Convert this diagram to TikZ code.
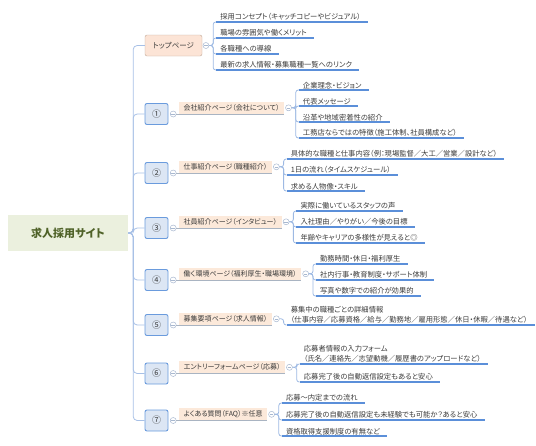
\documentclass[tikz,border=0pt]{standalone}
\usepackage{fontspec}
\setmainfont[RawFeature=+palt]{Noto Sans CJK JP}
\usetikzlibrary{positioning}
\definecolor{rootfill}{HTML}{EBF0DE}
\definecolor{roottext}{HTML}{4F6228}
\definecolor{tpfill}{HTML}{FCE4D6}
\definecolor{tpline}{HTML}{BFA898}
\definecolor{boxfill}{HTML}{DCE6F4}
\definecolor{boxline}{HTML}{6A9BDD}
\definecolor{labfill}{HTML}{FCE9DA}
\definecolor{labtext}{HTML}{3A3A3A}
\definecolor{trunkc}{HTML}{A7C0E6}
\definecolor{bracec}{HTML}{9DB9E3}
\definecolor{ulinec}{HTML}{5B8FD9}
\definecolor{lablinec}{HTML}{A9B4C2}
\definecolor{foldline}{HTML}{A8B8D0}

\begin{document}
\begin{tikzpicture}[x=1pt,y=-1pt,
	rootnode/.style={fill=rootfill, text=roottext, minimum width=120pt, minimum height=36pt, font=\bfseries\fontsize{11}{13}\selectfont},
	topbox/.style={draw=tpline, fill=tpfill, rounded corners=2pt, minimum width=57pt, minimum height=21pt, text=labtext, font=\fontsize{7.5}{9}\selectfont},
	numbox/.style={draw=boxline, fill=boxfill, line width=0.9pt, rounded corners=2pt, minimum width=23pt, minimum height=21pt, text=labtext, font=\fontsize{9}{10}\selectfont},
	lab/.style={anchor=south west, fill=labfill, text=labtext, inner xsep=4.5pt, inner ysep=1.5pt, minimum height=12pt, font=\fontsize{7}{8}\selectfont},
	leaf/.style={anchor=south west, align=left, inner xsep=4pt, inner ysep=1.2pt, text=labtext, font=\fontsize{7.3}{10}\selectfont},
	fold/.style={circle, draw=foldline, fill=white, line width=0.5pt, minimum size=6pt, inner sep=0pt,
		path picture={\draw[foldline, line width=0.5pt] ([xshift=-1.8pt]path picture bounding box.center) -- ([xshift=1.8pt]path picture bounding box.center);}},
	trunk/.style={draw=trunkc, line width=0.8pt, rounded corners=4pt},
	brace/.style={draw=bracec, line width=0.8pt, rounded corners=2.5pt},
	uline/.style={draw=ulinec, line width=1.1pt},
	labline/.style={draw=lablinec, line width=0.7pt}]
		\useasboundingbox (0,0) rectangle (536,445);
		\node[rootnode] (root) at (68,233) {求人採用サイト};
		%
		\node[topbox] (tp) at (173.5,45.5) {トップページ};
		\node[fold, right=0.5pt of tp] (tpf) {};
		\coordinate (x0) at ([xshift=7pt]tpf.east);
		\draw[trunk] (root.east) -- ++(5,0) |- (tp.west);
		\foreach \y/\txt [count=\i] in {22/採用コンセプト（キャッチコピーやビジュアル）, 38/職場の雰囲気や働くメリット, 54/各職種への導線, 70/最新の求人情報・募集職種一覧へのリンク}{
			\node[leaf] (c0\i) at (x0 |- 0,\y) {\txt};
			\draw[brace] (tpf.east) -| ([xshift=-3pt]c0\i.south west) -- (c0\i.south west);
			\draw[uline] (c0\i.south west) -- ([xshift=3pt]c0\i.south east);
		}
		%
		\node[numbox] (b1) at (156.5,114) {①};
		\node[fold, right=1.5pt of b1] (b1f) {};
		\node[lab] (l1) at (179,114) {会社紹介ページ（会社について）};
		\node[fold, right=1pt of l1] (l1f) {};
		\coordinate (x1) at ([xshift=7pt]l1f.east);
		\draw[trunk] (root.east) -- ++(5,0) |- (b1.west);
		\draw[labline] (b1f.east) -- (l1.south east);
		\foreach \y/\txt [count=\i] in {90/企業理念・ビジョン, 106/代表メッセージ, 122/沿革や地域密着性の紹介, 138/工務店ならではの特徴（施工体制、社員構成など）}{
			\node[leaf] (c1\i) at (x1 |- 0,\y) {\txt};
			\draw[brace] (l1f.east) -| ([xshift=-3pt]c1\i.south west) -- (c1\i.south west);
			\draw[uline] (c1\i.south west) -- ([xshift=3pt]c1\i.south east);
		}
		%
		\node[numbox] (b2) at (156.5,173) {②};
		\node[fold, right=1.5pt of b2] (b2f) {};
		\node[lab] (l2) at (179,173) {仕事紹介ページ（職種紹介）};
		\node[fold, right=1pt of l2] (l2f) {};
		\coordinate (x2) at ([xshift=7pt]l2f.east);
		\draw[trunk] (root.east) -- ++(5,0) |- (b2.west);
		\draw[labline] (b2f.east) -- (l2.south east);
		\foreach \y/\txt [count=\i] in {159/具体的な職種と仕事内容（例：現場監督／大工／営業／設計など）, 175/1日の流れ（タイムスケジュール）, 191/求める人物像・スキル}{
			\node[leaf] (c2\i) at (x2 |- 0,\y) {\txt};
			\draw[brace] (l2f.east) -| ([xshift=-3pt]c2\i.south west) -- (c2\i.south west);
			\draw[uline] (c2\i.south west) -- ([xshift=3pt]c2\i.south east);
		}
		%
		\node[numbox] (b3) at (156.5,228) {③};
		\node[fold, right=1.5pt of b3] (b3f) {};
		\node[lab] (l3) at (179,228) {社員紹介ページ（インタビュー）};
		\node[fold, right=1pt of l3] (l3f) {};
		\coordinate (x3) at ([xshift=7pt]l3f.east);
		\draw[trunk] (root.east) -- ++(5,0) |- (b3.west);
		\draw[labline] (b3f.east) -- (l3.south east);
		\foreach \y/\txt [count=\i] in {211/実際に働いているスタッフの声, 227/入社理由／やりがい／今後の目標, 243/年齢やキャリアの多様性が見えると◎}{
			\node[leaf] (c3\i) at (x3 |- 0,\y) {\txt};
			\draw[brace] (l3f.east) -| ([xshift=-3pt]c3\i.south west) -- (c3\i.south west);
			\draw[uline] (c3\i.south west) -- ([xshift=3pt]c3\i.south east);
		}
		%
		\node[numbox] (b4) at (156.5,280) {④};
		\node[fold, right=1.5pt of b4] (b4f) {};
		\node[lab] (l4) at (179,280) {働く環境ページ（福利厚生・職場環境）};
		\node[fold, right=1pt of l4] (l4f) {};
		\coordinate (x4) at ([xshift=7pt]l4f.east);
		\draw[trunk] (root.east) -- ++(5,0) |- (b4.west);
		\draw[labline] (b4f.east) -- (l4.south east);
		\foreach \y/\txt [count=\i] in {264/勤務時間・休日・福利厚生, 280/社内行事・教育制度・サポート体制, 296/写真や数字での紹介が効果的}{
			\node[leaf] (c4\i) at (x4 |- 0,\y) {\txt};
			\draw[brace] (l4f.east) -| ([xshift=-3pt]c4\i.south west) -- (c4\i.south west);
			\draw[uline] (c4\i.south west) -- ([xshift=3pt]c4\i.south east);
		}
		%
		\node[numbox] (b5) at (156.5,325) {⑤};
		\node[fold, right=1.5pt of b5] (b5f) {};
		\node[lab] (l5) at (179,325) {募集要項ページ（求人情報）};
		\node[fold, right=1pt of l5] (l5f) {};
		\coordinate (x5) at ([xshift=7pt]l5f.east);
		\draw[trunk] (root.east) -- ++(5,0) |- (b5.west);
		\draw[labline] (b5f.east) -- (l5.south east);
		\node[leaf] (c51) at (x5 |- 0,325) {募集中の職種ごとの詳細情報\\（仕事内容／応募資格／給与／勤務地／雇用形態／休日・休暇／待遇など）};
		\draw[brace] (l5f.east) -| ([xshift=-3pt]c51.south west) -- (c51.south west);
		\draw[uline] (c51.south west) -- ([xshift=3pt]c51.south east);
		%
		\node[numbox] (b6) at (156.5,373.5) {⑥};
		\node[fold, right=1.5pt of b6] (b6f) {};
		\node[lab] (l6) at (179,373.5) {エントリーフォームページ（応募）};
		\node[fold, right=1pt of l6] (l6f) {};
		\coordinate (x6) at ([xshift=7pt]l6f.east);
		\draw[trunk] (root.east) -- ++(5,0) |- (b6.west);
		\draw[labline] (b6f.east) -- (l6.south east);
		\node[leaf] (c61) at (x6 |- 0,364) {応募者情報の入力フォーム\\（氏名／連絡先／志望動機／履歴書のアップロードなど）};
		\node[leaf] (c62) at (x6 |- 0,382) {応募完了後の自動返信設定もあると安心};
		\foreach \c in {c61,c62}{
			\draw[brace] (l6f.east) -| ([xshift=-3pt]\c.south west) -- (\c.south west);
			\draw[uline] (\c.south west) -- ([xshift=3pt]\c.south east);
		}
		%
		\node[numbox] (b7) at (156.5,420.5) {⑦};
		\node[fold, right=1.5pt of b7] (b7f) {};
		\node[lab] (l7) at (179,420.5) {よくある質問（FAQ）※任意};
		\node[fold, right=1pt of l7] (l7f) {};
		\coordinate (x7) at ([xshift=7pt]l7f.east);
		\draw[trunk] (root.east) -- ++(5,0) |- (b7.west);
		\draw[labline] (b7f.east) -- (l7.south east);
		\foreach \y/\txt [count=\i] in {403/応募〜内定までの流れ, 420/応募完了後の自動返信設定も未経験でも可能か？あると安心, 436/資格取得支援制度の有無など}{
			\node[leaf] (c7\i) at (x7 |- 0,\y) {\txt};
			\draw[brace] (l7f.east) -| ([xshift=-3pt]c7\i.south west) -- (c7\i.south west);
			\draw[uline] (c7\i.south west) -- ([xshift=3pt]c7\i.south east);
		}
	\end{tikzpicture}
\end{document}
